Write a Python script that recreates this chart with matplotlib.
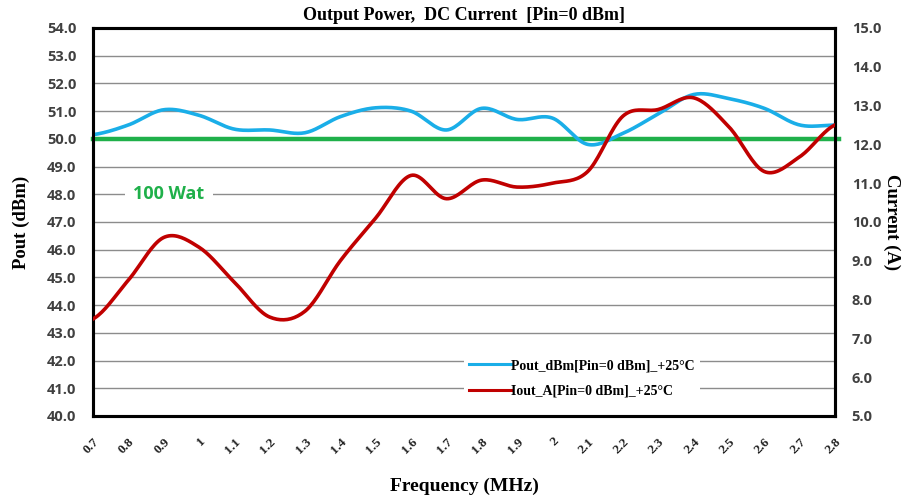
import numpy as np
import matplotlib
matplotlib.use('Agg')
import matplotlib.pyplot as plt
from matplotlib.lines import Line2D

# ===== DATA

freq_labels = ['0.7', '0.8', '0.9', '1', '1.1', '1.2', '1.3', '1.4', '1.5', '1.6', '1.7',
               '1.8', '1.9', '2', '2.1', '2.2', '2.3', '2.4', '2.5', '2.6', '2.7', '2.8']
pout_dbm = [50.15, 50.5, 51.05, 50.85, 50.35, 50.32, 50.22, 50.8, 51.12, 51.0, 50.32,
            51.1, 50.7, 50.75, 49.8, 50.2, 50.9, 51.6, 51.45, 51.1, 50.5, 50.5]
iout_a = [7.5, 8.5, 9.6, 9.35, 8.45, 7.55, 7.7, 9.0, 10.1, 11.2, 10.6,
          11.08, 10.9, 11.0, 11.3, 12.73, 12.9, 13.2, 12.45, 11.3, 11.68, 12.5]
limit_dbm = 50.0
limit_text = '100 Wat'

left_ticks = np.arange(40, 54.1, 1.0)
right_ticks = np.arange(5, 15.1, 1.0)


def smooth(y, n=20):
    # Catmull-Rom style smoothing, like the "smoothed line" option of spreadsheets
    y = np.asarray(y, dtype=float)
    x = np.arange(len(y), dtype=float)
    xs, ys = [], []
    for i in range(len(y) - 1):
        p0 = y[i - 1] if i > 0 else y[i]
        p3 = y[i + 2] if i + 2 < len(y) else y[i + 1]
        p1, p2 = y[i], y[i + 1]
        t = np.linspace(0, 1, n, endpoint=False)
        c1 = p1 + (p2 - p0) / 6.0
        c2 = p2 - (p3 - p1) / 6.0
        yy = (1 - t) ** 3 * p1 + 3 * (1 - t) ** 2 * t * c1 + 3 * (1 - t) * t ** 2 * c2 + t ** 3 * p2
        xs.extend(x[i] + t)
        ys.extend(yy)
    xs.append(x[-1])
    ys.append(y[-1])
    return np.array(xs), np.array(ys)


# ===== DISPLAY

serif = ['Liberation Serif', 'DejaVu Serif']
sans = ['Open Sans', 'DejaVu Sans']
tick_col = '#404040'

BLUE = '#1aaee8'
RED = '#c00000'
GREEN = '#1fb04a'

fig = plt.figure(figsize=(9.08, 4.98), dpi=100)
ax = fig.add_axes([0.1024, 0.1647, 0.8172, 0.7791])
ax2 = ax.twinx()

n = len(freq_labels)
ax.set_xlim(0, n - 1)
ax.set_ylim(40, 54)
ax2.set_ylim(5, 15)

for yv in left_ticks[1:-1]:
    ax.axhline(yv, color='#8c8c8c', lw=1.0, zorder=1)

ax.axhline(limit_dbm, color=GREEN, lw=3.2, zorder=4, xmax=1.005, clip_on=False)

sx, sy = smooth(pout_dbm)
ax.plot(sx, sy, color=BLUE, lw=2.6, zorder=5)
rx, ry = smooth(iout_a)
ax2.plot(rx, ry, color=RED, lw=2.6, zorder=5)

ax.set_zorder(ax2.get_zorder() - 1)
ax2.patch.set_visible(False)
ax.patch.set_visible(True)

ax.text(2.15, 48.0, limit_text, color=GREEN, fontsize=13, fontweight='bold', family=sans,
        ha='center', va='center', zorder=6,
        bbox=dict(facecolor='white', edgecolor='none', pad=6))

ax.set_yticks(left_ticks)
ax.set_yticklabels(['%.1f' % v for v in left_ticks], fontsize=10.5, fontweight='bold',
                   family=sans, color=tick_col)
ax2.set_yticks(right_ticks)
ax2.set_yticklabels(['%.1f' % v for v in right_ticks], fontsize=10.5, fontweight='bold',
                    family=sans, color=tick_col)
ax.set_xticks(range(n))
ax.set_xticklabels(freq_labels, rotation=45, ha='right', rotation_mode='anchor',
                   fontsize=9.5, fontweight='bold', family=serif, color='#202020')
ax.tick_params(axis='y', length=0, pad=12)
ax2.tick_params(axis='y', length=0, pad=12)
ax.tick_params(axis='x', length=0, pad=14)

for a in (ax, ax2):
    for sp in a.spines.values():
        sp.set_linewidth(2.2)
        sp.set_color('black')

ax.set_title('Output Power,  DC Current  [Pin=0 dBm]', fontsize=13, fontweight='bold',
             family=serif, pad=6)
ax.set_ylabel('Pout (dBm)', fontsize=13.5, fontweight='bold', family=serif, labelpad=12)
ax2.set_ylabel('Current (A)', fontsize=13.5, fontweight='bold', family=serif, rotation=-90,
               labelpad=14)
ax.set_xlabel('Frequency (MHz)', fontsize=14, fontweight='bold', family=serif, labelpad=16)

handles = [Line2D([], [], color=BLUE, lw=2.2), Line2D([], [], color=RED, lw=2.2)]
leg = ax2.legend(handles, ['Pout_dBm[Pin=0 dBm]_+25\u00b0C', 'Iout_A[Pin=0 dBm]_+25\u00b0C'],
                 loc='lower left', bbox_to_anchor=(0.49, 0.015), frameon=True,
                 handlelength=3.0, handletextpad=0.0, labelspacing=0.9,
                 prop={'family': serif, 'weight': 'bold', 'size': 10})
leg.get_frame().set_edgecolor('none')
leg.get_frame().set_facecolor('white')
leg.get_frame().set_alpha(1.0)

plt.savefig('out.png', dpi=100)
